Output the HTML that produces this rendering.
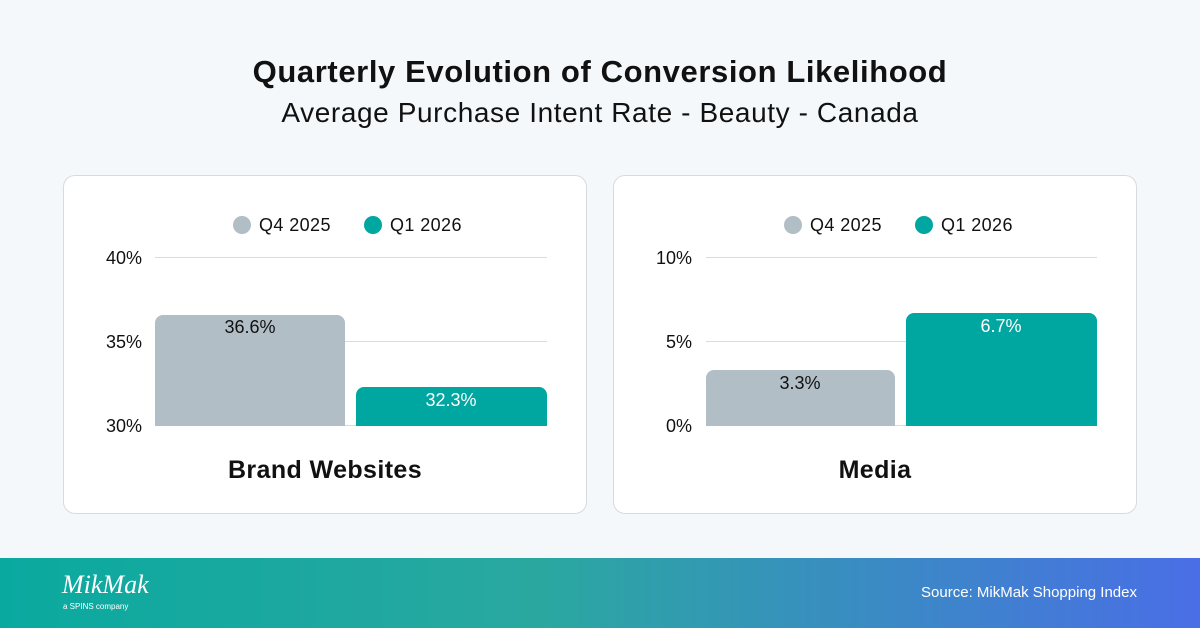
<!DOCTYPE html>
<html><head><style>
body{margin:0;width:1200px;height:628px;background:#f5f8fb;font-family:"Liberation Sans",sans-serif;position:relative;overflow:hidden;color:#111}
.t{position:absolute;left:0;width:1200px;text-align:center}
.panel{position:absolute;top:175px;width:522px;height:337px;background:#fff;border:1px solid #d6dbe0;border-radius:12px}
.foot{position:absolute;left:0;top:558px;width:1200px;height:70px;background:linear-gradient(90deg,#0aa99f 0%,#2aa8a0 45%,#4a6ee6 100%)}
</style></head><body>
<div class="t" style="top:54px;font-size:31px;font-weight:bold;letter-spacing:0.6px">Quarterly Evolution of Conversion Likelihood</div>
<div class="t" style="top:97px;font-size:28px;letter-spacing:0.6px">Average Purchase Intent Rate - Beauty - Canada</div>
<div class="panel" style="left:63px"></div>
<div class="panel" style="left:613px"></div>
<svg width="1200" height="628" style="position:absolute;left:0;top:0" font-family="Liberation Sans, sans-serif">
<g font-size="18" fill="#111" letter-spacing="0.4">
<circle cx="242" cy="225" r="9" fill="#b1bec6"/><text x="259" y="231">Q4 2025</text>
<circle cx="373" cy="225" r="9" fill="#00a6a0"/><text x="390" y="231">Q1 2026</text>
<circle cx="793" cy="225" r="9" fill="#b1bec6"/><text x="810" y="231">Q4 2025</text>
<circle cx="924" cy="225" r="9" fill="#00a6a0"/><text x="941" y="231">Q1 2026</text>
</g>
<g stroke="#d8dce0" stroke-width="1">
<line x1="155" x2="547" y1="257.5" y2="257.5"/><line x1="155" x2="547" y1="341.5" y2="341.5"/><line x1="155" x2="547" y1="425.5" y2="425.5"/>
<line x1="706" x2="1097" y1="257.5" y2="257.5"/><line x1="706" x2="1097" y1="341.5" y2="341.5"/><line x1="706" x2="1097" y1="425.5" y2="425.5"/>
</g>
<g font-size="18" fill="#111" text-anchor="end">
<text x="142" y="264">40%</text><text x="142" y="348">35%</text><text x="142" y="432">30%</text>
<text x="692" y="264">10%</text><text x="692" y="348">5%</text><text x="692" y="432">0%</text>
</g>
<path d="M155,426V323a8,8 0 0 1 8,-8H337a8,8 0 0 1 8,8V426Z" fill="#b1bec6"/>
<path d="M356,426V395a8,8 0 0 1 8,-8H539a8,8 0 0 1 8,8V426Z" fill="#00a6a0"/>
<path d="M706,426V378a8,8 0 0 1 8,-8H887a8,8 0 0 1 8,8V426Z" fill="#b1bec6"/>
<path d="M906,426V321a8,8 0 0 1 8,-8H1089a8,8 0 0 1 8,8V426Z" fill="#00a6a0"/>
<g font-size="18" text-anchor="middle">
<text x="250" y="333" fill="#111">36.6%</text>
<text x="451" y="406" fill="#fff">32.3%</text>
<text x="800" y="389" fill="#111">3.3%</text>
<text x="1001" y="332" fill="#fff">6.7%</text>
</g>
<g font-size="25" font-weight="bold" text-anchor="middle" fill="#111" letter-spacing="0.4">
<text x="325" y="478">Brand Websites</text>
<text x="875" y="478">Media</text>
</g>
</svg>
<div class="foot">
<div style="position:absolute;left:62px;top:12px;color:#fff;font-size:26px;font-style:italic;font-family:'Liberation Serif',serif">MikMak</div>
<div style="position:absolute;left:63px;top:44px;color:#fff;font-size:8px">a SPINS company</div>
<div style="position:absolute;right:63px;top:26px;color:#fff;font-size:15px">Source: MikMak Shopping Index</div>
</div>
</body></html>
